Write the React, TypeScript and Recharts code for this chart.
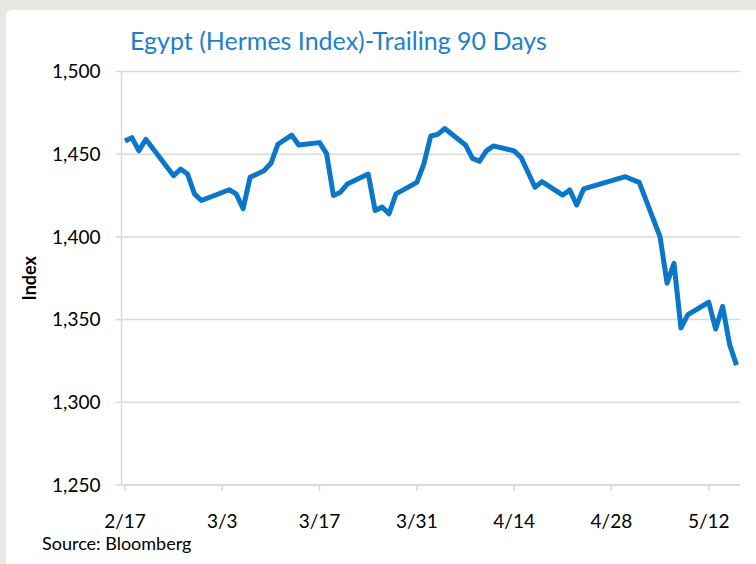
import { CartesianGrid, Line, LineChart, XAxis, YAxis } from "recharts";

// day offset from 2/17 and index close
const days = [
  0, 1, 2, 3, 7, 8, 9, 10, 11, 15, 16, 17, 18, 20, 21, 22, 24, 25, 28, 29, 30, 31,
  32, 35, 36, 37, 38, 39, 42, 43, 44, 45, 46, 49, 50, 51, 52, 53, 56, 57, 59, 60,
  63, 64, 65, 66, 72, 74, 77, 78, 79, 80, 81, 84, 85, 86, 87, 88,
];
const values = [
  1458, 1460, 1452, 1459, 1437, 1441, 1438, 1426, 1422, 1428.5, 1426, 1417, 1436,
  1440, 1444.5, 1456, 1461.5, 1455.6, 1457, 1450.5, 1425, 1427, 1432, 1438, 1416,
  1418, 1414, 1426, 1433, 1444, 1461, 1462, 1465.5, 1455.6, 1447.5, 1445.7, 1452,
  1455, 1452, 1448, 1430, 1433.4, 1425.3, 1428.4, 1419.3, 1429, 1436.4, 1433, 1400,
  1372, 1384, 1345, 1353, 1360.5, 1344.3, 1358, 1335, 1322.5,
];

const tickDays = [0, 14, 28, 42, 56, 70, 84];
const tickLabels = ["2/17", "3/3", "3/17", "3/31", "4/14", "4/28", "5/12"];
const yTicks = [1250, 1300, 1350, 1400, 1450, 1500];

const data = days.map((d, i) => ({ day: d, value: values[i] }));

const font = "Lato, Carlito, Calibri, sans-serif";

export default function App() {
  return (
    <div
      style={{
        position: "fixed",
        left: 0,
        top: 0,
        width: 756,
        height: 564,
        background: "#e8e7e2",
        fontFamily: font,
      }}
    >
      <div
        style={{
          position: "absolute",
          left: 6,
          top: 10,
          right: 0,
          bottom: 0,
          background: "#fff",
          borderTopLeftRadius: 6,
        }}
      />
      <div
        style={{
          position: "absolute",
          left: 130,
          top: 28,
          fontSize: 25,
          lineHeight: 1,
          color: "#1f7fcb",
          whiteSpace: "nowrap",
        }}
      >
        Egypt (Hermes Index)-Trailing 90 Days
      </div>
      <div
        style={{
          position: "absolute",
          left: 42,
          top: 534,
          fontSize: 18,
          lineHeight: 1,
          color: "#000",
          whiteSpace: "nowrap",
        }}
      >
        Source: Bloomberg
      </div>
      <div style={{ position: "absolute", left: 0, top: 0 }}>
        <LineChart
          width={756}
          height={564}
          data={data}
          margin={{ top: 71.5, right: 16, bottom: 49, left: 11.5 }}
        >
          <CartesianGrid vertical={false} stroke="#d9d9d9" strokeWidth={1.5} />
          <XAxis
            type="number"
            dataKey="day"
            domain={[-0.5, 88.5]}
            ticks={tickDays}
            tickFormatter={(v: number) => tickLabels[tickDays.indexOf(v)]}
            interval={0}
            allowDataOverflow
            axisLine={{ stroke: "#d9d9d9", strokeWidth: 1.5 }}
            tickLine={{ stroke: "#d9d9d9", strokeWidth: 1.5 }}
            tickSize={6}
            tickMargin={24}
            height={30}
            tick={{ fill: "#000", fontSize: 19, fontFamily: font }}
          />
          <YAxis
            domain={[1250, 1500]}
            ticks={yTicks}
            interval={0}
            width={110}
            tickFormatter={(v: number) => v.toLocaleString("en-US")}
            axisLine={{ stroke: "#d9d9d9", strokeWidth: 1.5 }}
            tickLine={{ stroke: "#d9d9d9", strokeWidth: 1.5 }}
            tickSize={6}
            tickMargin={15}
            tick={{ fill: "#000", fontSize: 19, fontFamily: font }}
            label={{
              value: "Index",
              angle: -90,
              position: "insideLeft",
              offset: 18,
              style: {
                textAnchor: "middle",
                fontWeight: 700,
                fontSize: 18,
                fill: "#000",
                fontFamily: font,
              },
            }}
          />
          <Line
            type="linear"
            dataKey="value"
            stroke="#0a77c8"
            strokeWidth={5}
            strokeLinejoin="round"
            dot={false}
            isAnimationActive={false}
          />
        </LineChart>
      </div>
    </div>
  );
}
